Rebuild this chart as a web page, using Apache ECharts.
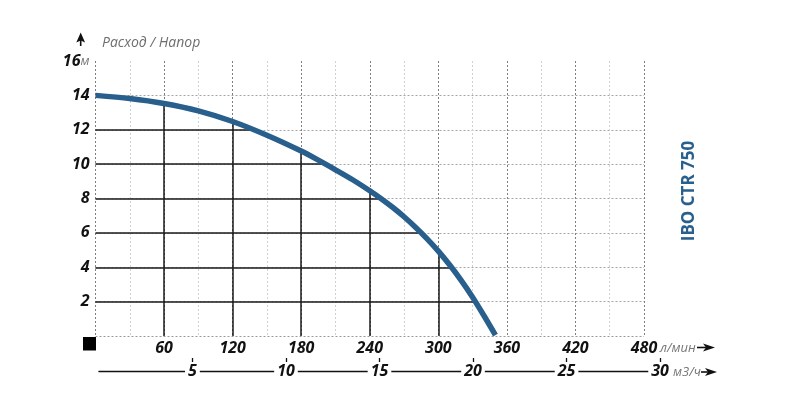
<!DOCTYPE html>
<html>
<head>
<meta charset="utf-8">
<script src="https://cdn.jsdelivr.net/npm/echarts@6/dist/echarts.min.js"></script>
<style>html,body{margin:0;padding:0;background:#fff}#c{width:800px;height:408px}</style>
</head>
<body>
<div id="c"></div>
<script>
// Pump curve: flow (l/min) vs head (m)
const flowLmin = [0, 30, 60, 90, 120, 150, 180, 195, 210, 225, 240, 250, 260, 270, 280, 290, 300, 310, 320, 330, 340, 350];
const headM    = [14.0, 13.82, 13.53, 13.1, 12.48, 11.68, 10.76, 10.23, 9.67, 9.09, 8.45, 7.99, 7.49, 6.94, 6.33, 5.67, 4.94, 4.13, 3.24, 2.26, 1.18, 0.05];

// Black guide lines (horizontal: head level -> flow where it meets curve)
const hLevels = [2, 4, 6, 8, 10, 12];
const hEnds   = [332.5, 311.5, 285, 250, 201, 136];
// Vertical guide lines (flow -> head where it meets curve)
const vPos  = [60, 120, 180, 240, 300];
const vTops = [13.53, 12.48, 10.76, 8.45, 4.94];

const m3hTicks = [5, 10, 15, 20, 25, 30];

const FONT = 'Open Sans';
const curveColor = '#285f8d';
const PX_PER_M3H = 18.706;   // second scale: pixels per m3/h
const M3H_LEFT = 98.9;       // pixel where 0 m3/h sits

const chart = echarts.init(document.getElementById('c'));

const guideData = [];
hLevels.forEach((h, i) => guideData.push([{coord: [0, h]}, {coord: [hEnds[i], h]}]));
vPos.forEach((x, i) => guideData.push([{coord: [x, 0]}, {coord: [x, vTops[i]]}]));

const xSplitColors = ['#7e7e7e', '#d2d2d2'];
const ySplitColors = ['#9a9a9a','#a4a4a4','#a4a4a4','#a4a4a4','#a4a4a4','#a4a4a4','#a4a4a4','#a4a4a4','transparent'];

const labelRich = {
  b: {fontFamily: FONT, fontSize: 16, fontStyle: 'italic', fontWeight: 'bold', color: '#111'},
  u: {fontFamily: FONT, fontSize: 13, fontStyle: 'italic', fontWeight: 'normal', color: '#777'}
};

const tickMin = m3hTicks[0], tickMax = m3hTicks[m3hTicks.length - 1];

chart.setOption({
  animation: false,
  backgroundColor: '#fff',
  grid: [
    {left: 95.5, top: 61, right: 156, bottom: 72, containLabel: false},
    {left: M3H_LEFT, top: 300, right: 800 - (M3H_LEFT + 30 * PX_PER_M3H), bottom: 37, containLabel: false},
    {left: M3H_LEFT + tickMin * PX_PER_M3H, top: 300, right: 800 - (M3H_LEFT + tickMax * PX_PER_M3H), bottom: 50, containLabel: false}
  ],
  xAxis: [
    {
      type: 'value', gridIndex: 0, position: 'bottom', min: 0, max: 480, interval: 30,
      axisLine: {show: false}, axisTick: {show: false},
      axisLabel: {
        margin: 4,
        formatter: v => (v > 0 && v % 60 === 0) ? '{b|' + v + '}' : '',
        rich: labelRich
      },
      splitLine: {show: true, lineStyle: {color: xSplitColors, type: [2, 2], width: 1}}
    },
    {
      type: 'value', gridIndex: 1, position: 'bottom', min: 0, max: 30, interval: 5,
      axisLine: {show: true, lineStyle: {color: '#111', width: 1.3}},
      axisTick: {show: false},
      splitLine: {show: false},
      axisLabel: {
        customValues: m3hTicks,
        margin: 0, verticalAlign: 'middle',
        backgroundColor: '#fff', padding: [0, 3], lineHeight: 14,
        fontFamily: FONT, fontSize: 16, fontStyle: 'italic', fontWeight: 'bold', color: '#111'
      }
    },
    {
      type: 'value', gridIndex: 2, position: 'bottom', min: tickMin, max: tickMax, interval: 5,
      axisLine: {show: false, onZero: false},
      axisTick: {show: true, inside: false, length: 4, lineStyle: {color: '#111', width: 1.3}},
      axisLabel: {show: false},
      splitLine: {show: false},
      z: 10
    }
  ],
  yAxis: [
    {
      type: 'value', gridIndex: 0, min: 0, max: 16, interval: 2,
      axisLine: {show: false}, axisTick: {show: false},
      axisLabel: {
        margin: 6,
        formatter: v => v === 0 ? '' : (v === 16 ? '{b|16}{u|м}' : '{b|' + v + '}'),
        rich: labelRich
      },
      splitLine: {show: true, lineStyle: {color: ySplitColors, type: [2, 2], width: 1}}
    },
    {type: 'value', gridIndex: 1, show: false, min: 0, max: 1},
    {type: 'value', gridIndex: 2, show: false, min: 0, max: 1}
  ],
  series: [
    {
      type: 'line', xAxisIndex: 0, yAxisIndex: 0,
      data: flowLmin.map((x, i) => [x, headM[i]]),
      smooth: 0.3, showSymbol: false, symbol: 'none',
      lineStyle: {color: curveColor, width: 5.5},
      z: 5,
      markLine: {
        silent: true, symbol: 'none', label: {show: false},
        lineStyle: {color: '#1a1a1a', width: 1.5, type: 'solid'},
        data: guideData, z: 3
      }
    }
  ],
  graphic: [
    {type: 'text', left: 102, top: 36, style: {text: 'Расход / Напор', fontFamily: FONT, fontSize: 14, fontStyle: 'italic', fill: '#6e6e6e'}},
    {type: 'polygon', shape: {points: [[80.7, 32.5], [76.3, 42.5], [80.7, 40.5], [85.1, 42.5]]}, style: {fill: '#111'}},
    {type: 'line', shape: {x1: 80.7, y1: 40, x2: 80.7, y2: 46}, style: {stroke: '#111', lineWidth: 1.6}},
    {type: 'rect', shape: {x: 83, y: 337, width: 13, height: 13.5}, style: {fill: '#000'}},
    {type: 'text', x: 660, y: 348, style: {text: 'л/мин', fontFamily: FONT, fontSize: 13, fontStyle: 'italic', fill: '#777', verticalAlign: 'middle'}},
    {type: 'text', x: 673, y: 372, style: {text: 'м3/ч', fontFamily: FONT, fontSize: 13, fontStyle: 'italic', fill: '#777', verticalAlign: 'middle'}},
    {type: 'polygon', shape: {points: [[703, 343.5], [715, 347.5], [703, 351.5], [706, 347.5]]}, style: {fill: '#111'}},
    {type: 'line', shape: {x1: 697, y1: 347.5, x2: 706, y2: 347.5}, style: {stroke: '#111', lineWidth: 1.6}},
    {type: 'polygon', shape: {points: [[705, 368], [717, 372], [705, 376], [708, 372]]}, style: {fill: '#111'}},
    {type: 'line', shape: {x1: 701, y1: 372, x2: 708, y2: 372}, style: {stroke: '#111', lineWidth: 1.6}},
    {type: 'text', x: 689, y: 191, rotation: Math.PI / 2, style: {text: 'IBO CTR 750', fontFamily: FONT, fontSize: 17, fontWeight: 'bold', fill: curveColor, align: 'center', verticalAlign: 'middle'}}
  ]
});
</script>
</body>
</html>
